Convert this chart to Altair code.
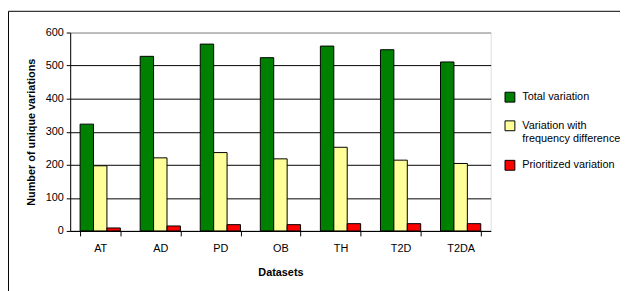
import altair as alt
import pandas as pd

datasets = ["AT", "AD", "PD", "OB", "TH", "T2D", "T2DA"]
total_variation = [323, 528, 565, 524, 559, 548, 511]
freq_variation = [197, 221, 237, 218, 253, 214, 204]
prioritized_variation = [9, 15, 19, 19, 22, 22, 22]
series = ["Total variation", "Variation with frequency difference", "Prioritized variation"]
colors = ["#008000", "#FFFF99", "#FF0000"]
y_ticks = [0, 100, 200, 300, 400, 500, 600]

rows = []
for i, d in enumerate(datasets):
    for s, vals in zip(series, [total_variation, freq_variation, prioritized_variation]):
        rows.append({"Dataset": d, "Series": s, "Value": vals[i]})
df = pd.DataFrame(rows)

FONT = "Liberation Sans"

label_expr = (
    "datum.label == 'Variation with frequency difference' ? ['Variation with', 'frequency difference'] : datum.label"
)

bars = alt.Chart(df).mark_bar(stroke="black", strokeWidth=1).encode(
    x=alt.X(
        "Dataset:N",
        sort=datasets,
        scale=alt.Scale(paddingInner=0.33, paddingOuter=0.165),
        axis=alt.Axis(
            title="Datasets",
            labelAngle=0,
            tickBand="extent",
            tickSize=5,
            tickColor="black",
            domainColor="black",
            labelPadding=7,
            labelFont=FONT,
            labelFontSize=11,
            labelColor="black",
            titleFont=FONT,
            titleFontSize=11,
            titleFontWeight="bold",
            titleColor="black",
            titlePadding=13,
        ),
    ),
    xOffset=alt.XOffset("Series:N", sort=series, scale=alt.Scale(paddingInner=0, paddingOuter=0)),
    y=alt.Y(
        "Value:Q",
        scale=alt.Scale(domain=[0, 600], nice=False),
        axis=alt.Axis(
            title="Number of unique variations",
            values=y_ticks,
            tickSize=4,
            tickColor="black",
            domainColor="black",
            labelPadding=3,
            labelFont=FONT,
            labelFontSize=11,
            labelColor="black",
            grid=True,
            gridColor=alt.condition("datum.value == 600", alt.value("#888888"), alt.value("black")),
            gridWidth=1,
            titleFont=FONT,
            titleFontSize=11,
            titleFontWeight="bold",
            titleColor="black",
            titlePadding=9,
        ),
    ),
    color=alt.Color(
        "Series:N",
        sort=series,
        scale=alt.Scale(domain=series, range=colors),
        legend=alt.Legend(
            title=None,
            orient="none",
            legendX=440,
            legendY=60,
            symbolType="square",
            symbolSize=100,
            symbolStrokeColor="black",
            symbolStrokeWidth=1,
            symbolOpacity=1,
            labelOffset=7,
            labelFont=FONT,
            labelFontSize=11,
            labelColor="black",
            labelLimit=400,
            rowPadding=14,
            labelExpr=label_expr,
        ),
    ),
)

frame = alt.Chart(pd.DataFrame({"a": [0]})).mark_rect(
    fill="transparent", stroke="black", strokeWidth=1
).encode(
    x=alt.value(-62.5), x2=alt.value(600), y=alt.value(-21.5), y2=alt.value(300)
)

chart = alt.layer(bars, frame).properties(
    width=426,
    height=201,
    autosize=alt.AutoSizeParams(type="none"),
    padding={"left": 63, "top": 23, "right": 131, "bottom": 59},
).configure_view(stroke="#888888", strokeWidth=1).configure(background="white")

chart.save("out.html", embed_options={"renderer": "svg", "actions": False})
